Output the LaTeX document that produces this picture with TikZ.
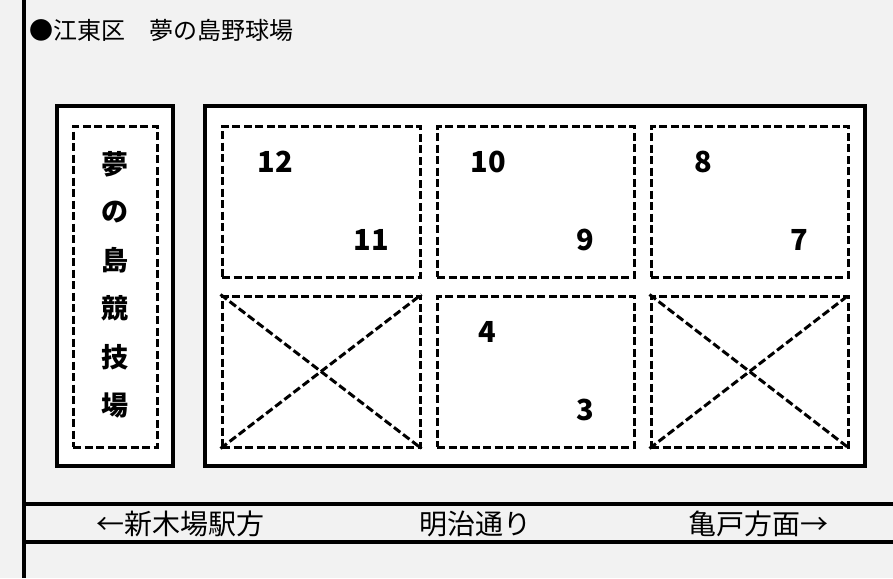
\documentclass[tikz,border=0pt]{standalone}
\usepackage{fontspec}
\newfontfamily\jpfont{Noto Sans CJK JP}
\definecolor{groundgray}{HTML}{F2F2F2}

\begin{document}
\begin{tikzpicture}[x=1pt,y=-1pt,
    wall/.style={line width=3.6pt},
    dashline/.style={line width=3pt,dash pattern=on 8pt off 3.5pt},
    seat/.style={draw,dashline,fill=white,minimum width=197pt,minimum height=151pt,inner sep=0pt},
    num/.style={font=\jpfont\bfseries\fontsize{29}{29}\selectfont},
    kanji/.style={font=\jpfont\bfseries\fontsize{27}{27}\selectfont},
    road/.style={font=\jpfont\fontsize{28}{28}\selectfont}]
  \useasboundingbox (0,0) rectangle (893,578);
  \fill[groundgray] (0,0) rectangle (893,578);
  \draw[wall] (24,0) -- (24,578);
  \draw[wall] (24,504) -- (893,504);
  \draw[wall] (24,542) -- (893,542);
  \node[anchor=west,font=\jpfont\fontsize{24}{24}\selectfont,inner sep=0pt] (title) at (29,30) {●江東区　夢の島野球場};

  \draw[wall,fill=white] (57,106) rectangle (173,466);
  \node[seat,minimum width=84pt,minimum height=321pt] (stadium) at (115,286.5) {};
  \foreach \ch [count=\i] in {夢,の,島,競,技,場}
    \node[kanji] (k\i) at (115,164+48.2*\i-48.2) {\ch};

  \draw[wall,fill=white] (205,106) rectangle (865,466);
  \node[seat,minimum width=198pt] (c1) at (321,201.5) {};
  \node[seat] (c2) at (535.5,201.5) {};
  \node[seat] (c3) at (749.5,201.5) {};
  \node[seat,minimum width=198pt] (c4) at (321,371.5) {};
  \node[seat] (c5) at (535.5,371.5) {};
  \node[seat] (c6) at (749.5,371.5) {};
  \draw[dashline] (c4.north west) -- (c4.south east);
  \draw[dashline] (c4.south west) -- (c4.north east);
  \draw[dashline] (c6.north west) -- (c6.south east);
  \draw[dashline] (c6.south west) -- (c6.north east);

  \node[num] (n12) at ([shift={(-46,-40)}]c1.center) {12};
  \node[num] (n11) at ([shift={(50,38)}]c1.center) {11};
  \node[num] (n10) at ([shift={(-47,-40)}]c2.center) {10};
  \node[num] (n9) at ([shift={(50,38)}]c2.center) {9};
  \node[num] (n8) at ([shift={(-46,-40)}]c3.center) {8};
  \node[num] (n7) at ([shift={(50,38)}]c3.center) {7};
  \node[num] (n4) at ([shift={(-48,-40)}]c5.center) {4};
  \node[num] (n3) at ([shift={(50,38)}]c5.center) {3};

  \node[road] (west) at (180,524) {←新木場駅方};
  \node[road] (street) at (475,524) {明治通り};
  \node[road] (east) at (758,524) {亀戸方面→};
\end{tikzpicture}
\end{document}
